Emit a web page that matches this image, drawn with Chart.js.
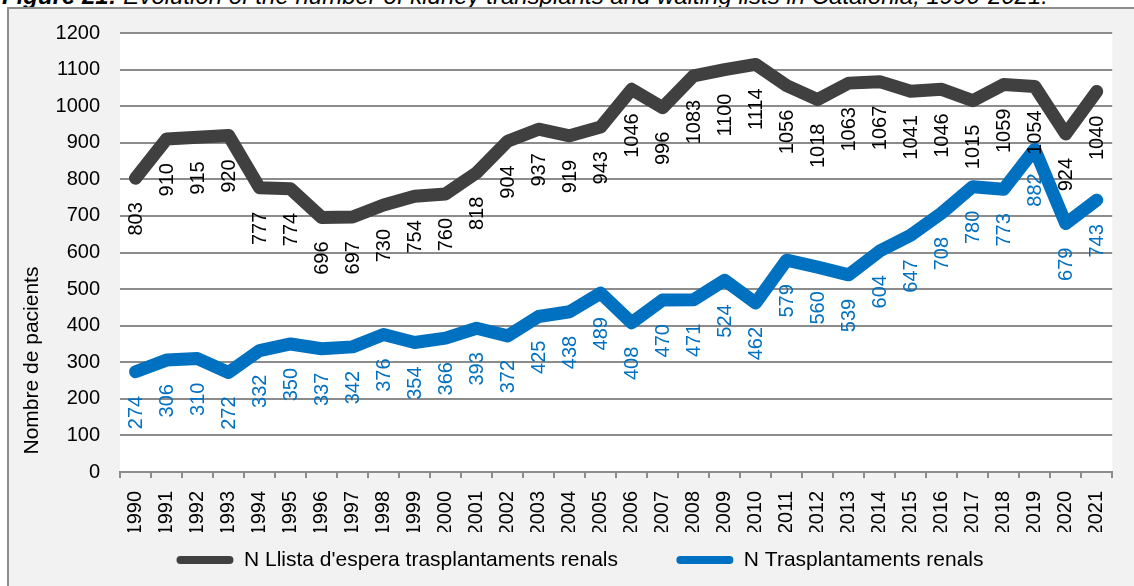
<!DOCTYPE html>
<html>
<head>
<meta charset="utf-8">
<script src="https://cdn.jsdelivr.net/npm/chart.js@4"></script>
<style>
  html, body { margin: 0; padding: 0; background: #fff; overflow: hidden; }
  #title {
    position: absolute; left: 2px; top: -16px; white-space: nowrap;
    font: italic 24px "Liberation Sans", Arial, sans-serif; line-height: 24px; color: #000;
  }
  #frame {
    position: absolute; left: 7px; top: 7px; width: 1140px; height: 600px;
    background: #f2f2f2; border-left: 2px solid #8c8c8c; border-top: 2px solid #8c8c8c;
  }
  #myChart { position: absolute; left: 0; top: 0; }
</style>
</head>
<body>
<div id="title"><b>Figure 21:</b> Evolution of the number of kidney transplants and waiting lists in Catalonia, 1990-2021.</div>
<div id="frame"></div>
<canvas id="myChart" width="1134" height="586"></canvas>
<script>
const years = [
  "1990", "1991", "1992", "1993", "1994", "1995", "1996", "1997",
  "1998", "1999", "2000", "2001", "2002", "2003", "2004", "2005",
  "2006", "2007", "2008", "2009", "2010", "2011", "2012", "2013",
  "2014", "2015", "2016", "2017", "2018", "2019", "2020", "2021",
];

const waitingList = [
  803, 910, 915, 920, 777, 774, 696, 697, 730, 754, 760, 818, 904, 937, 919, 943,
  1046, 996, 1083, 1100, 1114, 1056, 1018, 1063, 1067, 1041, 1046, 1015, 1059, 1054, 924, 1040,
];

const transplants = [
  274, 306, 310, 272, 332, 350, 337, 342, 376, 354, 366, 393, 372, 425, 438, 489,
  408, 470, 471, 524, 462, 579, 560, 539, 604, 647, 708, 780, 773, 882, 679, 743,
];

const seriesNames = ["N Llista d'espera trasplantaments renals", "N Trasplantaments renals"];
const lineColors = ["#404040", "#0070c0"];
const labelColors = ["#000000", "#0070c0"];

Chart.defaults.font.family = '"Liberation Sans", Arial, sans-serif';
Chart.defaults.font.size = 20;
Chart.defaults.color = "#000";

// white plot area on the grey frame
const plotBg = {
  id: "plotBg",
  beforeDraw(chart) {
    const { ctx, chartArea } = chart;
    ctx.save();
    ctx.fillStyle = "#fff";
    ctx.fillRect(chartArea.left, chartArea.top - 1, chartArea.right - chartArea.left, chartArea.bottom - chartArea.top + 1);
    ctx.restore();
  },
};

// vertical value labels under every point
const valueLabels = {
  id: "valueLabels",
  afterDatasetsDraw(chart) {
    const ctx = chart.ctx;
    chart.data.datasets.forEach((ds, i) => {
      const meta = chart.getDatasetMeta(i);
      meta.data.forEach((pt, j) => {
        ctx.save();
        ctx.translate(pt.x + 1, pt.y + 24);
        ctx.rotate(-Math.PI / 2);
        ctx.font = '20px "Liberation Sans", Arial, sans-serif';
        ctx.fillStyle = labelColors[i];
        ctx.textAlign = "right";
        ctx.textBaseline = "middle";
        ctx.fillText(String(ds.data[j]), 0, 0);
        ctx.restore();
      });
    });
  },
};

const data = {
  labels: years,
  datasets: [
    {
      label: seriesNames[0],
      data: waitingList,
      borderColor: lineColors[0],
      backgroundColor: lineColors[0],
      borderWidth: 13,
      borderJoinStyle: "round",
      borderCapStyle: "round",
      pointRadius: 0,
      tension: 0,
      fill: false,
    },
    {
      label: seriesNames[1],
      data: transplants,
      borderColor: lineColors[1],
      backgroundColor: lineColors[1],
      borderWidth: 13,
      borderJoinStyle: "round",
      borderCapStyle: "round",
      pointRadius: 0,
      tension: 0,
      fill: false,
    },
  ],
};

const config = {
  type: "line",
  data: data,
  plugins: [plotBg, valueLabels],
  options: {
    responsive: false,
    animation: false,
    layout: { padding: { left: 44, top: 33, right: 18, bottom: 5.5 } },
    plugins: {
      tooltip: { enabled: false },
      legend: {
        position: "bottom",
        labels: {
          boxWidth: 57,
          boxHeight: 8,
          useBorderRadius: true,
          borderRadius: 4,
          padding: 17.5,
          color: "#000",
          font: { size: 21 },
          generateLabels(chart) {
            // trailing spaces widen the gap between the two entries
            return chart.data.datasets.map((ds, i) => ({
              text: i === 0 ? ds.label + "       " : ds.label,
              fillStyle: lineColors[i],
              strokeStyle: lineColors[i],
              lineWidth: 0,
              borderRadius: 4,
              datasetIndex: i,
            }));
          },
        },
      },
    },
    scales: {
      x: {
        offset: true,
        grid: {
          offset: true,
          drawOnChartArea: false,
          drawTicks: true,
          tickLength: 6,
          color: "#8c8c8c",
          lineWidth: 2,
        },
        border: { color: "#8c8c8c", width: 2 },
        ticks: { minRotation: 90, maxRotation: 90, padding: 13, autoSkip: false, color: "#000" },
        afterFit(s) { s.height = 60; },
      },
      y: {
        min: 0,
        max: 1200,
        ticks: { stepSize: 100, padding: 20, color: "#000", callback: (v) => String(v) },
        grid: { color: "#8c8c8c", lineWidth: 2, drawTicks: false },
        border: { display: false },
        title: {
          display: true,
          text: "   Nombre de pacients",
          align: "start",
          padding: { top: -24.6, bottom: 0 },
          color: "#000",
          font: { size: 21 },
        },
        afterFit(s) { s.width = 76; },
      },
    },
  },
};

const lineChart = new Chart(document.querySelector("#myChart"), config);
</script>
</body>
</html>
